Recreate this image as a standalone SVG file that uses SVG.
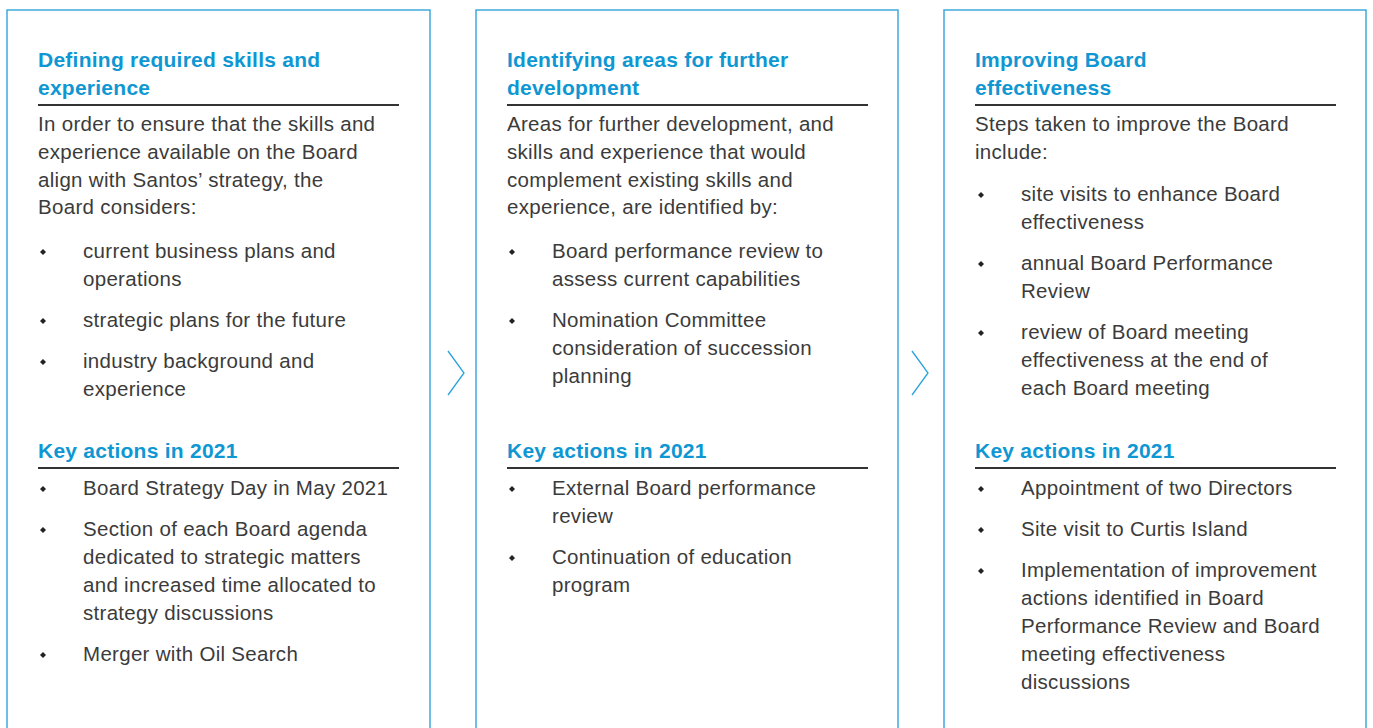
<svg xmlns="http://www.w3.org/2000/svg" width="1373" height="728" viewBox="0 0 1373 728">
<style>
.panel{fill:none;stroke:#3fa9de;stroke-width:1.5}
.chev{fill:none;stroke:#2aa3dc;stroke-width:1.3}
.h{font-family:"Liberation Sans",Arial,sans-serif;font-weight:bold;font-size:21px;letter-spacing:0.25px;fill:#0f97d3}
.t{font-family:"Liberation Sans",Arial,sans-serif;font-size:20.5px;letter-spacing:0.3px;fill:#3b3b3b}
.rule{stroke:#333;stroke-width:2}
.b{fill:#222}
</style>
<defs>
<path id="dot" d="M0,-3 L3,0 L0,3 L-3,0 Z"/>
</defs>
<rect width="1373" height="728" fill="#fff"/>
<g id="connectors">
<polyline class="chev" points="448,351 464,373 448,395"/>
<polyline class="chev" points="912,351 928,373 912,395"/>
</g>
<g id="panel1">
<path class="panel" d="M7,730 V10 H430 V730"/>
<text class="h" x="38" y="67">Defining required skills and</text>
<text class="h" x="38" y="95">experience</text>
<line class="rule" x1="38" y1="105" x2="399" y2="105"/>
<text class="t" x="38" y="131">In order to ensure that the skills and</text>
<text class="t" x="38" y="159">experience available on the Board</text>
<text class="t" x="38" y="187">align with Santos’ strategy, the</text>
<text class="t" x="38" y="214">Board considers:</text>
<use href="#dot" class="b" x="43" y="252"/>
<text class="t" x="83" y="258">current business plans and</text>
<text class="t" x="83" y="286">operations</text>
<use href="#dot" class="b" x="43" y="321"/>
<text class="t" x="83" y="327">strategic plans for the future</text>
<use href="#dot" class="b" x="43" y="362"/>
<text class="t" x="83" y="368">industry background and</text>
<text class="t" x="83" y="396">experience</text>
<text class="h" x="38" y="458">Key actions in 2021</text>
<line class="rule" x1="38" y1="468" x2="399" y2="468"/>
<use href="#dot" class="b" x="43" y="489"/>
<text class="t" x="83" y="495">Board Strategy Day in May 2021</text>
<use href="#dot" class="b" x="43" y="530"/>
<text class="t" x="83" y="536">Section of each Board agenda</text>
<text class="t" x="83" y="564">dedicated to strategic matters</text>
<text class="t" x="83" y="592">and increased time allocated to</text>
<text class="t" x="83" y="620">strategy discussions</text>
<use href="#dot" class="b" x="43" y="655"/>
<text class="t" x="83" y="661">Merger with Oil Search</text>
</g>
<g id="panel2">
<path class="panel" d="M476,730 V10 H898 V730"/>
<text class="h" x="507" y="67">Identifying areas for further</text>
<text class="h" x="507" y="95">development</text>
<line class="rule" x1="507" y1="105" x2="868" y2="105"/>
<text class="t" x="507" y="131">Areas for further development, and</text>
<text class="t" x="507" y="159">skills and experience that would</text>
<text class="t" x="507" y="187">complement existing skills and</text>
<text class="t" x="507" y="214">experience, are identified by:</text>
<use href="#dot" class="b" x="512" y="252"/>
<text class="t" x="552" y="258">Board performance review to</text>
<text class="t" x="552" y="286">assess current capabilities</text>
<use href="#dot" class="b" x="512" y="321"/>
<text class="t" x="552" y="327">Nomination Committee</text>
<text class="t" x="552" y="355">consideration of succession</text>
<text class="t" x="552" y="383">planning</text>
<text class="h" x="507" y="458">Key actions in 2021</text>
<line class="rule" x1="507" y1="468" x2="868" y2="468"/>
<use href="#dot" class="b" x="512" y="489"/>
<text class="t" x="552" y="495">External Board performance</text>
<text class="t" x="552" y="523">review</text>
<use href="#dot" class="b" x="512" y="558"/>
<text class="t" x="552" y="564">Continuation of education</text>
<text class="t" x="552" y="592">program</text>
</g>
<g id="panel3">
<path class="panel" d="M944,730 V10 H1366 V730"/>
<text class="h" x="975" y="67">Improving Board</text>
<text class="h" x="975" y="95">effectiveness</text>
<line class="rule" x1="975" y1="105" x2="1336" y2="105"/>
<text class="t" x="975" y="131">Steps taken to improve the Board</text>
<text class="t" x="975" y="159">include:</text>
<use href="#dot" class="b" x="981" y="195"/>
<text class="t" x="1021" y="201">site visits to enhance Board</text>
<text class="t" x="1021" y="229">effectiveness</text>
<use href="#dot" class="b" x="981" y="264"/>
<text class="t" x="1021" y="270">annual Board Performance</text>
<text class="t" x="1021" y="298">Review</text>
<use href="#dot" class="b" x="981" y="333"/>
<text class="t" x="1021" y="339">review of Board meeting</text>
<text class="t" x="1021" y="367">effectiveness at the end of</text>
<text class="t" x="1021" y="395">each Board meeting</text>
<text class="h" x="975" y="458">Key actions in 2021</text>
<line class="rule" x1="975" y1="468" x2="1336" y2="468"/>
<use href="#dot" class="b" x="981" y="489"/>
<text class="t" x="1021" y="495">Appointment of two Directors</text>
<use href="#dot" class="b" x="981" y="530"/>
<text class="t" x="1021" y="536">Site visit to Curtis Island</text>
<use href="#dot" class="b" x="981" y="571"/>
<text class="t" x="1021" y="577">Implementation of improvement</text>
<text class="t" x="1021" y="605">actions identified in Board</text>
<text class="t" x="1021" y="633">Performance Review and Board</text>
<text class="t" x="1021" y="661">meeting effectiveness</text>
<text class="t" x="1021" y="689">discussions</text>
</g>
</svg>
